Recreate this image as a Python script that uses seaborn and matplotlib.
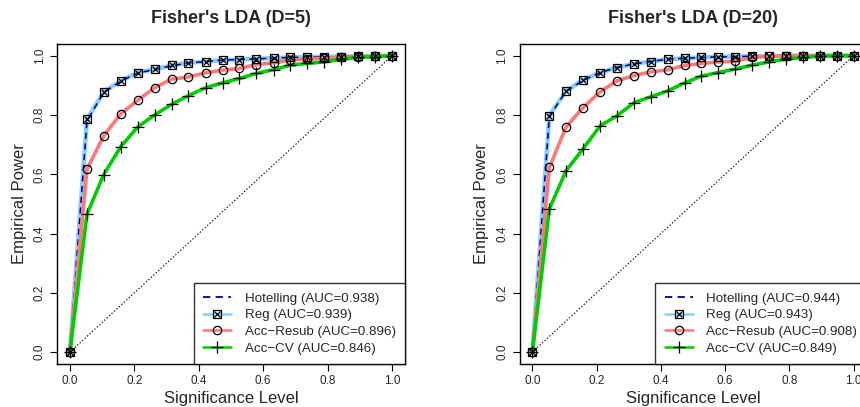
import numpy as np
import pandas as pd
import matplotlib
matplotlib.use("Agg")
import matplotlib.pyplot as plt
import seaborn as sns
from matplotlib.lines import Line2D
from matplotlib.legend_handler import HandlerTuple

sns.set_style("ticks")
plt.rcParams['font.family'] = ['Liberation Sans', 'DejaVu Sans']

# significance levels (20 evaluation points)
alpha = [0.0, 0.053, 0.105, 0.158, 0.211, 0.263, 0.316, 0.368, 0.421, 0.474,
         0.526, 0.579, 0.632, 0.684, 0.737, 0.789, 0.842, 0.895, 0.947, 1.0]

titles = ["Fisher's LDA (D=5)", "Fisher's LDA (D=20)"]
series_names = ["Hotelling", "Reg", "Acc\u2212Resub", "Acc\u2212CV"]
auc_d5 = [0.938, 0.939, 0.896, 0.846]
auc_d20 = [0.944, 0.943, 0.908, 0.849]

# D = 5
hot_d5 = [0.0, 0.780, 0.876, 0.914, 0.942, 0.953, 0.966, 0.975, 0.980, 0.985,
          0.987, 0.989, 0.992, 0.994, 0.995, 0.996, 0.997, 0.998, 0.999, 1.0]
reg_d5 = [0.0, 0.785, 0.878, 0.915, 0.943, 0.954, 0.967, 0.976, 0.980, 0.985,
          0.987, 0.989, 0.992, 0.994, 0.995, 0.996, 0.997, 0.998, 0.999, 1.0]
resub_d5 = [0.0, 0.617, 0.730, 0.804, 0.850, 0.892, 0.921, 0.928, 0.942, 0.951,
            0.957, 0.970, 0.976, 0.985, 0.989, 0.991, 0.994, 0.996, 0.998, 1.0]
cv_d5 = [0.0, 0.465, 0.599, 0.693, 0.760, 0.800, 0.836, 0.865, 0.892, 0.908,
         0.923, 0.940, 0.953, 0.968, 0.974, 0.979, 0.988, 0.994, 0.997, 1.0]

# D = 20
hot_d20 = [0.0, 0.795, 0.880, 0.917, 0.943, 0.960, 0.972, 0.980, 0.988, 0.991,
           0.994, 0.996, 0.997, 0.998, 0.999, 0.999, 1.0, 1.0, 1.0, 1.0]
reg_d20 = [0.0, 0.798, 0.881, 0.918, 0.943, 0.960, 0.972, 0.980, 0.988, 0.991,
           0.994, 0.996, 0.997, 0.998, 0.999, 0.999, 1.0, 1.0, 1.0, 1.0]
resub_d20 = [0.0, 0.623, 0.760, 0.825, 0.878, 0.915, 0.933, 0.945, 0.952, 0.967,
             0.974, 0.979, 0.981, 0.994, 0.998, 1.0, 1.0, 1.0, 1.0, 1.0]
cv_d20 = [0.0, 0.483, 0.612, 0.686, 0.763, 0.797, 0.841, 0.861, 0.881, 0.908,
          0.931, 0.943, 0.955, 0.968, 0.979, 0.988, 0.994, 0.998, 1.0, 1.0]

ticks = [0.0, 0.2, 0.4, 0.6, 0.8, 1.0]
tick_labels = ["0.0", "0.2", "0.4", "0.6", "0.8", "1.0"]

C_HOT = "#00008B"
C_REG = "#87CEFA"
C_RES = "#FF7878"
C_CV = "#00CD00"

W, H = 860, 407
fig = plt.figure(figsize=(W / 100, H / 100), dpi=100)

def px_axes(x0, x1, ytop, ybot):
    return fig.add_axes([x0 / W, 1 - ybot / H, (x1 - x0) / W, (ybot - ytop) / H])

axes = [px_axes(57, 405, 43.8, 364), px_axes(519.5, 866.5, 43.8, 364)]
panels = [(hot_d5, reg_d5, resub_d5, cv_d5, auc_d5),
          (hot_d20, reg_d20, resub_d20, cv_d20, auc_d20)]

for ax, title, (hot, reg, res, cv, auc) in zip(axes, titles, panels):
    df = pd.DataFrame({"alpha": alpha, "hot": hot, "reg": reg, "res": res, "cv": cv})
    ax.plot([0, 1], [0, 1], color="black", lw=0.8, ls=(0, (1.2, 1.8)), zorder=1)
    sns.lineplot(data=df, x="alpha", y="reg", ax=ax, color=C_REG, lw=3.2, zorder=2)
    sns.lineplot(data=df, x="alpha", y="hot", ax=ax, color=C_HOT, lw=1.1,
                 zorder=3).lines[-1].set_dashes([4, 3])
    sns.lineplot(data=df, x="alpha", y="res", ax=ax, color=C_RES, lw=2.6, zorder=4)
    sns.lineplot(data=df, x="alpha", y="cv", ax=ax, color=C_CV, lw=2.6, zorder=5)
    # markers
    ax.plot(df["alpha"], df["reg"], ls="none", marker="s", ms=5.5, mfc="none",
            mec="black", mew=0.9, zorder=6)
    ax.plot(df["alpha"], df["reg"], ls="none", marker="x", ms=4.5,
            mec="black", mew=0.9, zorder=6)
    ax.plot(df["alpha"], df["res"], ls="none", marker="o", ms=6, mfc="none",
            mec="black", mew=0.9, zorder=6)
    ax.plot(df["alpha"], df["cv"], ls="none", marker="+", ms=9,
            mec="black", mew=0.9, zorder=6)

    ax.set_xlim(-0.04, 1.04)
    ax.set_ylim(-0.04, 1.04)
    ax.set_xticks(ticks)
    ax.set_xticklabels(tick_labels, fontsize=8.5)
    ax.set_yticks(ticks)
    ax.set_yticklabels(tick_labels, fontsize=8.5, rotation=90, va="center")
    ax.tick_params(direction="out", length=5, width=0.8, color="black", pad=3)
    for s in ax.spines.values():
        s.set_visible(True)
        s.set_color("black")
        s.set_linewidth(1.0)
    ax.set_xlabel("Significance Level", fontsize=12, labelpad=3)
    ax.set_ylabel("Empirical Power", fontsize=12, labelpad=5)
    ax.set_title(title, fontsize=13, fontweight="bold", pad=15)

    h_hot = Line2D([], [], color=C_HOT, lw=1.3, dashes=[4, 3])
    h_reg = (Line2D([], [], color=C_REG, lw=1.8),
             Line2D([], [], ls="none", marker="s", ms=5.5, mfc="none", mec="black", mew=0.9),
             Line2D([], [], ls="none", marker="x", ms=4.5, mec="black", mew=0.9))
    h_res = (Line2D([], [], color=C_RES, lw=1.8),
             Line2D([], [], ls="none", marker="o", ms=6, mfc="none", mec="black", mew=0.9))
    h_cv = (Line2D([], [], color=C_CV, lw=1.8),
            Line2D([], [], ls="none", marker="+", ms=9, mec="black", mew=0.9))
    labels = [f"{n} (AUC={a:.3f})" for n, a in zip(series_names, auc)]
    leg = ax.legend([h_hot, h_reg, h_res, h_cv], labels, loc="lower right",
                    handler_map={tuple: HandlerTuple(ndivide=1)},
                    fontsize=9.6, frameon=True, fancybox=False, borderaxespad=0,
                    handlelength=2.1, handletextpad=1.0, labelspacing=0.32,
                    borderpad=0.7)
    leg.get_frame().set_edgecolor("black")
    leg.get_frame().set_linewidth(1.0)

fig.savefig("out.png", dpi=100)
